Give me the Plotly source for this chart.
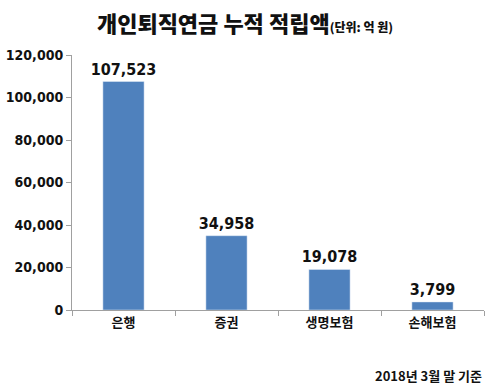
import plotly.graph_objects as go

categories = ["은행", "증권", "생명보험", "손해보험"]
values = [107523, 34958, 19078, 3799]
value_labels = ["107,523", "34,958", "19,078", "3,799"]
tick_vals = [0, 20000, 40000, 60000, 80000, 100000, 120000]
tick_text = ["0", "20,000", "40,000", "60,000", "80,000", "100,000", "120,000"]

fig = go.Figure(go.Bar(
    x=categories, y=values, text=value_labels, textposition="outside",
    constraintext="none",
    textfont=dict(family="Liberation Sans Narrow, DejaVu Sans Condensed, Liberation Sans, Arial",
                  size=16, color="#111", weight=700),
    marker=dict(color="#4f81bd"), cliponaxis=False,
))

fig.update_layout(
    width=490, height=385,
    margin=dict(l=58, r=6, t=55, b=75),
    paper_bgcolor="white", plot_bgcolor="white",
    bargap=0.6, showlegend=False,
    title=dict(
        text="개인퇴직연금 누적 적립액<span style='font-size:12px'>(단위: 억 원)</span>",
        x=0.5, xanchor="center", y=0.937, yanchor="middle",
        font=dict(family="Noto Sans CJK KR", size=22, color="#111", weight=900),
    ),
    xaxis=dict(
        showline=True, linecolor="#a0a0a0", linewidth=1,
        ticks="outside", tickson="boundaries", ticklen=5, tickcolor="#a0a0a0",
        tickfont=dict(family="Noto Sans CJK KR", size=13, color="#111", weight=700),
    ),
    yaxis=dict(
        range=[0, 120000], tickvals=tick_vals, ticktext=tick_text,
        showline=True, linecolor="#a0a0a0", linewidth=1,
        ticks="outside", ticklen=5, tickcolor="#a0a0a0",
        showgrid=False, zeroline=False,
        tickfont=dict(family="Liberation Sans Narrow, DejaVu Sans Condensed, Liberation Sans, Arial",
                      size=14, color="#111", weight=700),
    ),
    annotations=[dict(
        text="2018년 3월 말 기준", xref="paper", yref="paper",
        x=1, y=-0.255, xanchor="right", yanchor="middle", showarrow=False,
        font=dict(family="Noto Sans CJK KR", size=13, color="#111", weight=700),
    )],
)

fig.write_html("out.html", config={"displayModeBar": False})
with open("out.html", encoding="utf-8") as f:
    html = f.read()
html = html.replace("<body>", "<body style=\"margin:0;padding:0;\">", 1)
with open("out.html", "w", encoding="utf-8") as f:
    f.write(html)
